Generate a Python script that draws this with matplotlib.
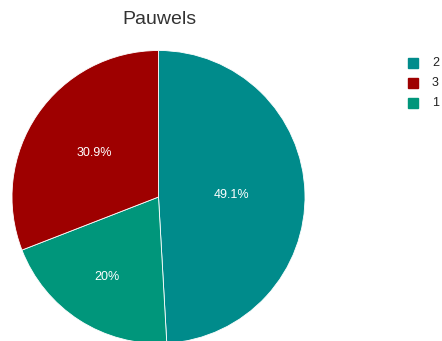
import matplotlib
matplotlib.use("Agg")
import matplotlib.pyplot as plt
import numpy as np

title = "Pauwels"
# slices in drawing order (clockwise from 12 o'clock)
labels = ["2", "1", "3"]
values = [49.1, 20.0, 30.9]
colors = ["#008b8b", "#00967b", "#9e0000"]
legend_order = ["2", "3", "1"]
label_dist = [0.5, 0.65, 0.53]

plt.rcParams['font.family'] = ['Liberation Sans', 'DejaVu Sans']
W, H = 442, 341
fig = plt.figure(figsize=(W / 100, H / 100), dpi=100)
ax = fig.add_axes([0, 0, 1, 1])
ax.set_xlim(0, W)
ax.set_ylim(0, H)
ax.set_aspect('equal')
ax.axis('off')

cx, cy, r = 158.5, H - 197, 146.5
wedges, _ = ax.pie(values, colors=colors, startangle=90, counterclock=False,
                   center=(cx, cy), radius=r, frame=True,
                   wedgeprops=dict(edgecolor='white', linewidth=0.6))
ax.set_xlim(0, W)
ax.set_ylim(0, H)
ax.axis('off')

def fmt(v):
    s = f"{v:.1f}"
    if s.endswith(".0"):
        s = s[:-2]
    return s + "%"

for w, v, d in zip(wedges, values, label_dist):
    ang = np.deg2rad((w.theta1 + w.theta2) / 2)
    ax.text(cx + d * r * np.cos(ang), cy + d * r * np.sin(ang), fmt(v),
            color='white', fontsize=9, ha='center', va='center')

ax.text(159, H - 20, title, fontsize=14, color='#333333', ha='center', va='center')

for i, lab in enumerate(legend_order):
    idx = labels.index(lab)
    y = H - (63 + 20 * i)
    ax.add_patch(plt.Rectangle((408, y - 5), 10, 10, color=colors[idx]))
    ax.text(432, y, lab, fontsize=9, color='#222222', ha='left', va='center')

fig.savefig("out.png", dpi=100)
